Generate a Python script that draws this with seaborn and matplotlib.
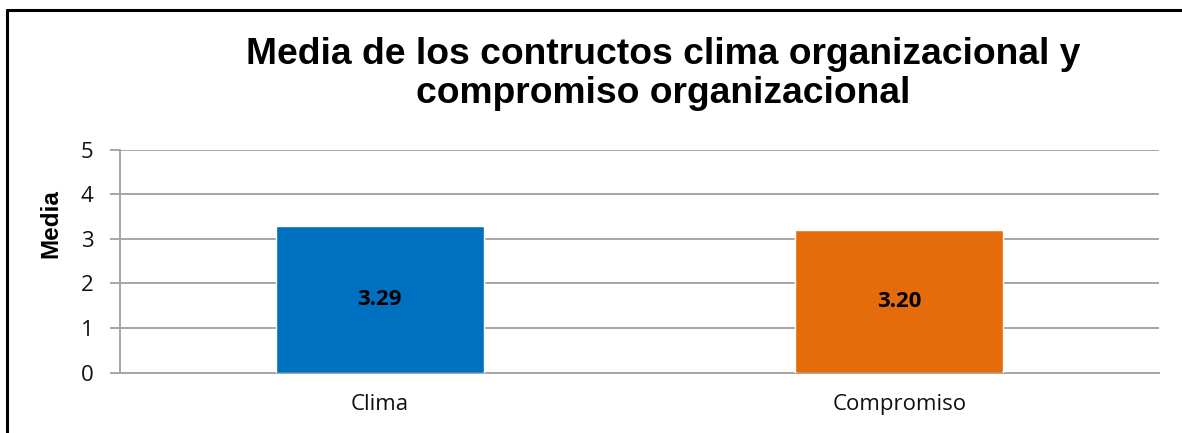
import matplotlib
matplotlib.use("Agg")
import matplotlib.pyplot as plt
import seaborn as sns
import pandas as pd
from matplotlib.lines import Line2D

categories = ["Clima", "Compromiso"]
values = [3.29, 3.20]
value_labels = ["3.29", "3.20"]
colors = ["#0070C0", "#E46C0A"]
yticks = [0, 1, 2, 3, 4, 5]

sns.set_theme(style="white")
plt.rcParams['font.family'] = ['Open Sans', 'DejaVu Sans']

W, H = 1182, 433
fig = plt.figure(figsize=(W / 100, H / 100), dpi=100)
ax = fig.add_axes([120 / W, 1 - 372.7 / H, (1159 - 120) / W, (372.7 - 149.5) / H])

df = pd.DataFrame({"cat": categories, "val": values})
sns.barplot(data=df, x="cat", y="val", hue="cat", palette=colors, width=0.40,
            saturation=1, legend=False, ax=ax, zorder=3)

ax.set_ylim(0, 5)
ax.set_xlim(-0.5, 1.5)
ax.set_yticks(yticks)
ax.set_yticklabels([str(t) for t in yticks], fontsize=16, color="#111111")
ax.yaxis.grid(True, color="#A6A6A6", linewidth=1.4, zorder=0)
ax.xaxis.grid(False)
for s in ["top", "right"]:
    ax.spines[s].set_visible(False)
ax.spines["left"].set_color("#A6A6A6")
ax.spines["left"].set_linewidth(1.4)
ax.spines["bottom"].set_color("#A6A6A6")
ax.spines["bottom"].set_linewidth(1.4)
ax.tick_params(axis="y", which="major", length=7, width=1.4, color="#A6A6A6",
               left=True, pad=12)
ax.tick_params(axis="x", length=0, pad=15)
for lbl in ax.get_xticklabels():
    lbl.set_fontsize(16)
    lbl.set_color("#111111")
ax.set_xlabel("")
ax.set_ylabel("Media", fontsize=17.5, fontweight="bold", color="black",
              family=["Liberation Sans", "DejaVu Sans"])
ax.yaxis.set_label_coords(-0.0558, 0.666)

for cont, lab in zip(ax.containers, value_labels):
    ax.bar_label(cont, labels=[lab], label_type="center", fontsize=16,
                 fontweight="bold", color="black")

fig.text(663 / W, 1 - 74 / H,
         "Media de los contructos clima organizacional y\ncompromiso organizacional",
         ha="center", va="center", fontsize=26.8, fontweight="bold", color="black",
         family=["Liberation Sans", "DejaVu Sans"], linespacing=1.15)

# partial chart frame (top and left edges)
fig.add_artist(Line2D([7 / W, 1.0], [1 - 10 / H, 1 - 10 / H], transform=fig.transFigure,
                      color="black", linewidth=2.2))
fig.add_artist(Line2D([7 / W, 7 / W], [1 - 10 / H, 0], transform=fig.transFigure,
                      color="black", linewidth=2.2))

fig.savefig("out.png", dpi=100)
